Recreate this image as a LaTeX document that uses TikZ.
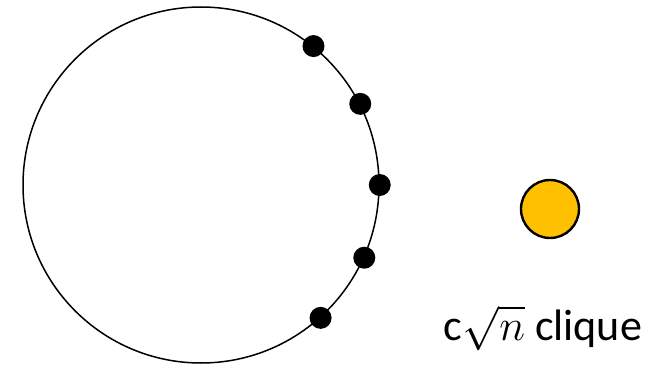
\documentclass[tikz,border=0pt]{standalone}
\usepackage{amsmath}
\usepackage{fontspec}
\setmainfont{Carlito}
\usetikzlibrary{positioning}
\definecolor{amber}{HTML}{FFC000}
\tikzset{
  ring/.style={draw=black,circle,line width=1.5pt,minimum size=356pt,inner sep=0pt},
  vert/.style={circle,fill=black,minimum size=22pt,inner sep=0pt},
  blob/.style={circle,draw=black,fill=amber,line width=2.4pt,minimum size=58pt,inner sep=0pt},
  lbl/.style={font=\fontsize{24.88}{30}\selectfont,scale=1.77,inner sep=0pt},
}
\begin{document}
\begin{tikzpicture}[x=1pt,y=1pt]
\useasboundingbox (0,0) rectangle (657,-369);
\node[ring] (cyc) at (201,-185) {};
\foreach \a/\n in {51/v1, 27.5/v2, 0.5/v3, -24.5/v4, -48.3/v5} { \node[vert] (\n) at (cyc.\a) {}; }
\node[blob] (cl) at (550,-209) {};
\node[lbl] (cltext) at (543,-328) {c$\sqrt{n}$ clique};
\end{tikzpicture}
\end{document}
